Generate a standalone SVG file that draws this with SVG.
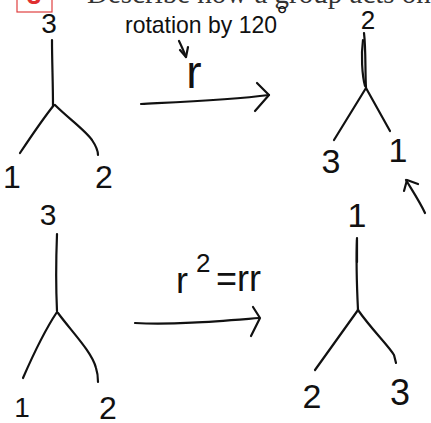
<svg xmlns="http://www.w3.org/2000/svg" width="431" height="423" viewBox="0 0 431 423">
<style>
.s{fill:none;stroke:#111;stroke-width:2.2;stroke-linecap:round;stroke-linejoin:round}
.d{font-family:"Liberation Sans",Arial,sans-serif;fill:#111;text-anchor:middle}
.h{font-family:"Liberation Serif","Times New Roman",serif;fill:#333}
</style>
<rect width="431" height="423" fill="#fff"/>
<g id="header">
<rect x="17" y="-22" width="35" height="34" fill="none" stroke="#e04040" stroke-width="1.2"/>
<text x="34" y="4" font-family="Liberation Sans,Arial,sans-serif" font-weight="bold" font-size="26" fill="#e03030" text-anchor="middle">3</text>
<text class="h" x="87" y="3" font-size="29">Describe how a group acts on</text>
</g>
<g id="tree-top-left">
<path class="s" d="M52,40 C52,60 53,85 53,106"/>
<path class="s" d="M54,105 C42,120 30,138 20,153"/>
<path class="s" d="M55,105 C68,118 85,130 92,140 C96,146 98,150 98,155"/>
<text class="d" x="49" y="33" font-size="28">3</text>
<text class="d" x="12" y="188" font-size="32">1</text>
<text class="d" x="104" y="188" font-size="32">2</text>
</g>
<g id="tree-top-right">
<path class="s" d="M364,33 C366,50 365,70 366,88"/>
<path class="s" d="M363,40 C361,55 362,75 365,86"/>
<path class="s" d="M366,88 L334,140"/>
<path class="s" d="M366,88 L390,131"/>
<text class="d" x="368" y="29" font-size="26">2</text>
<text class="d" x="331" y="173" font-size="34">3</text>
<text class="d" x="398" y="162" font-size="34">1</text>
</g>
<g id="tree-bottom-left">
<path class="s" d="M57,234 C56,260 56,290 57,311"/>
<path class="s" d="M57,312 C45,330 33,355 23,378"/>
<path class="s" d="M58,313 C72,332 92,352 96,368 C98,374 98,378 98,382"/>
<text class="d" x="48" y="225" font-size="30">3</text>
<text class="d" x="22" y="417" font-size="28">1</text>
<text class="d" x="108" y="419" font-size="32">2</text>
</g>
<g id="tree-bottom-right">
<path class="s" d="M357,238 C356,262 357,290 358,310"/>
<path class="s" d="M357,240 L357,262" stroke-width="4"/>
<path class="s" d="M358,310 L315,370"/>
<path class="s" d="M358,310 C372,330 388,345 394,355 L396,363"/>
<text class="d" x="357" y="227" font-size="34">1</text>
<text class="d" x="312" y="408" font-size="34">2</text>
<text class="d" x="400" y="405" font-size="36">3</text>
</g>
<g id="connectors">
<path class="s" d="M179,41 C182,47 184,52 186,57"/>
<path class="s" d="M180,50 L186,57 L188,47"/>
<path class="s" d="M141,104 C180,102 230,100 269,95"/>
<path class="s" d="M257,83 L269,95 L255,111"/>
<path class="s" d="M135,323 C175,325 220,321 259,318"/>
<path class="s" d="M253,307 L260,318 L251,336"/>
<path class="s" d="M425,213 C420,202 412,190 406,180"/>
<path class="s" d="M404,191 L407,180 L418,184"/>
</g>
<g id="labels">
<text class="d" x="201" y="33" font-size="24" textLength="152" lengthAdjust="spacingAndGlyphs">rotation by 120</text>
<text class="d" x="282" y="25" font-size="28">°</text>
<text class="d" x="194" y="88" font-size="46">r</text>
<text x="176" y="293" font-family="Liberation Sans,Arial,sans-serif" font-size="36" fill="#111">r</text>
<text x="196" y="272" font-family="Liberation Sans,Arial,sans-serif" font-size="26" fill="#111">2</text>
<text x="216" y="291" font-family="Liberation Sans,Arial,sans-serif" font-size="36" fill="#111">=rr</text>
</g>
</svg>
